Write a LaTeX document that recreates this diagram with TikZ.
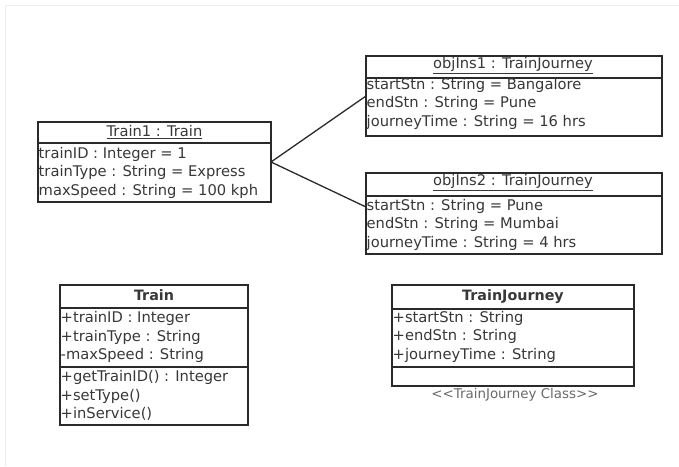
\documentclass[tikz,border=0pt]{standalone}
\usepackage{fontspec}
\setmainfont{DejaVu Sans}
\begin{document}
\begin{tikzpicture}[x={(1pt,0pt)}, y={(0pt,-1pt)},
  umlbox/.style={draw=linec, line width=1.5pt, rectangle, inner sep=0pt, outer sep=0pt},
  sepline/.style={draw=linec, line width=1.5pt},
  link/.style={draw=linec, line width=1.3pt},
  attr/.style={anchor=base west, inner sep=0pt, text=textc, font=\fontsize{14.7}{16}\selectfont},
  ttl/.style={anchor=base, inner sep=0pt, text=textc, font=\fontsize{14.7}{16}\selectfont},
  bttl/.style={anchor=base, inner sep=0pt, text=textc, font=\fontsize{14.3}{16}\selectfont\bfseries},
  note/.style={anchor=base, inner sep=0pt, text=notec, font=\fontsize{13.4}{15}\selectfont}]
\definecolor{linec}{HTML}{2A2A2A}
\definecolor{textc}{HTML}{383838}
\definecolor{notec}{HTML}{6A6A6A}
\definecolor{framec}{HTML}{EDEDED}

% canvas and its faint frame
\useasboundingbox (0,0) rectangle (679,466);
\fill[white] (0,0) rectangle (679,466);
\draw[framec, line width=1pt] (679,5) -- (5,5) -- (5,466);

% ---- object Train1 : Train ----
\node[umlbox, minimum width=233pt, minimum height=80pt] (t1) at (154.5,162) {};
\draw[sepline] (38,143) -- (271,143);
\node[ttl] (t1t) at (154.5,136.5) {\underline{Train1 : Train}};
\node[attr] (t1a) at (38.5,158) {trainID : Integer = 1};
\node[attr] (t1b) at (38.5,176.5) {trainType : String = Express};
\node[attr] (t1c) at (38.5,195) {maxSpeed : String = 100 kph};

% ---- object objIns1 : TrainJourney ----
\node[umlbox, minimum width=296pt, minimum height=80pt] (o1) at (514,96) {};
\draw[sepline] (366,78) -- (662,78);
\node[ttl] (o1t) at (513,68.5) {\underline{objIns1 : TrainJourney}};
\node[attr] (o1a) at (366.5,89) {startStn : String = Bangalore};
\node[attr] (o1b) at (366.5,107.5) {endStn : String = Pune};
\node[attr] (o1c) at (366.5,126) {journeyTime : String = 16 hrs};

% ---- object objIns2 : TrainJourney ----
\node[umlbox, minimum width=296pt, minimum height=81pt] (o2) at (514,213.5) {};
\draw[sepline] (366,196) -- (662,196);
\node[ttl] (o2t) at (513,185.5) {\underline{objIns2 : TrainJourney}};
\node[attr] (o2a) at (366.5,210) {startStn : String = Pune};
\node[attr] (o2b) at (366.5,228.5) {endStn : String = Mumbai};
\node[attr] (o2c) at (366.5,247) {journeyTime : String = 4 hrs};

% links between the objects
\draw[link] (t1.east) -- (o1.west);
\draw[link] (t1.east) -- ([yshift=6.5pt]o2.west);

% ---- class Train ----
\node[umlbox, minimum width=188pt, minimum height=140pt] (tc) at (154,355) {};
\draw[sepline] (60,308) -- (248,308);
\draw[sepline] (60,367) -- (248,367);
\node[bttl] (tct) at (154,300.5) {Train};
\node[attr] (tca) at (60.5,322.5) {+trainID : Integer};
\node[attr] (tcb) at (60.5,341) {+trainType : String};
\node[attr] (tcc) at (60.5,359.5) {-maxSpeed : String};
\node[attr] (tcd) at (60.5,381.5) {+getTrainID() : Integer};
\node[attr] (tce) at (60.5,400) {+setType()};
\node[attr] (tcf) at (60.5,418.5) {+inService()};

% ---- class TrainJourney ----
\node[umlbox, minimum width=242pt, minimum height=101pt] (tj) at (513,335.5) {};
\draw[sepline] (392,309) -- (634,309);
\draw[sepline] (392,367) -- (634,367);
\node[bttl] (tjt) at (513,300.5) {TrainJourney};
\node[attr] (tja) at (392.5,322) {+startStn : String};
\node[attr] (tjb) at (392.5,340.5) {+endStn : String};
\node[attr] (tjc) at (392.5,359) {+journeyTime : String};
\node[note] (tjn) at (515,398.5) {<{}<TrainJourney Class>{}>};
\end{tikzpicture}
\end{document}
